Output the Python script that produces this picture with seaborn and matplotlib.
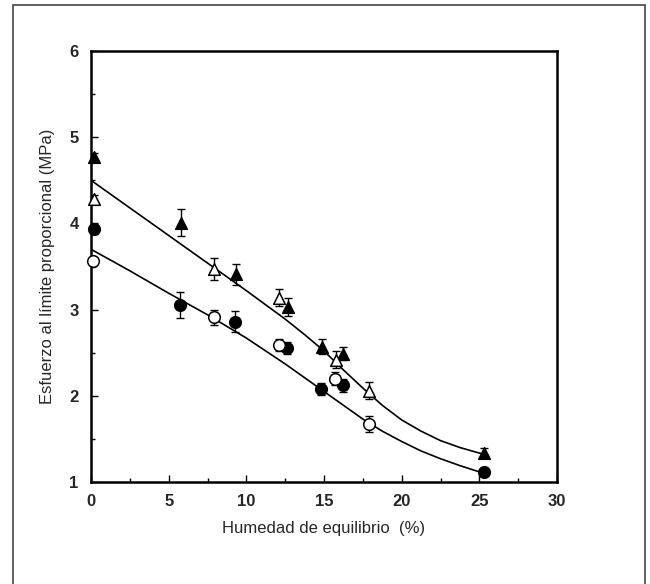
import matplotlib
matplotlib.use('Agg')
import seaborn as sns
from matplotlib import pyplot as plt
from matplotlib.patches import Rectangle
import pandas as pd

# filled triangles
ft_x = [0.2, 5.8, 9.35, 12.7, 14.9, 16.25, 25.3]
ft_y = [4.77, 4.01, 3.41, 3.03, 2.57, 2.49, 1.34]
ft_err = [0.05, 0.16, 0.12, 0.10, 0.09, 0.08, 0.05]
# open triangles
ot_x = [0.2, 7.9, 12.1, 15.8, 17.9]
ot_y = [4.28, 3.47, 3.14, 2.42, 2.06]
ot_err = [0.05, 0.13, 0.10, 0.10, 0.10]
# filled circles
fc_x = [0.2, 5.7, 9.3, 12.6, 14.8, 16.2, 25.3]
fc_y = [3.93, 3.05, 2.86, 2.55, 2.08, 2.12, 1.12]
fc_err = [0.05, 0.15, 0.12, 0.07, 0.07, 0.08, 0.03]
# open circles
oc_x = [0.1, 7.9, 12.1, 15.7, 17.9]
oc_y = [3.56, 2.91, 2.59, 2.20, 1.67]
oc_err = [0.05, 0.09, 0.07, 0.08, 0.09]

# fitted curves
fit_x = [0, 2.5, 5, 7.5, 10, 12.5, 13.75, 15, 16.25, 17.5, 18.75, 20, 21.25, 22.5, 23.75, 25.3]
fit_upper = [4.50, 4.18, 3.86, 3.54, 3.22, 2.89, 2.71, 2.52, 2.30, 2.09, 1.89, 1.72, 1.59, 1.48, 1.40, 1.32]
fit_lower = [3.70, 3.45, 3.19, 2.94, 2.67, 2.37, 2.21, 2.05, 1.89, 1.73, 1.59, 1.47, 1.36, 1.27, 1.19, 1.10]

x_ticks = [0, 5, 10, 15, 20, 25, 30]
y_ticks = [1, 2, 3, 4, 5, 6]

sns.set_style('ticks')
plt.rcParams['font.family'] = ['Liberation Sans', 'DejaVu Sans']

fig = plt.figure(figsize=(6.5, 5.84), dpi=100)
ax = fig.add_axes([91 / 650, 1 - 482 / 584, (557 - 91) / 650, (482 - 51) / 584])

fits = pd.DataFrame({'x': fit_x + fit_x,
                     'y': fit_upper + fit_lower,
                     'curve': ['upper'] * len(fit_x) + ['lower'] * len(fit_x)})
sns.lineplot(data=fits, x='x', y='y', units='curve', estimator=None,
             color='black', linewidth=1.2, ax=ax, legend=False)

series = [
    (ft_x, ft_y, ft_err, '^', 'black'),
    (ot_x, ot_y, ot_err, '^', 'white'),
    (fc_x, fc_y, fc_err, 'o', 'black'),
    (oc_x, oc_y, oc_err, 'o', 'white'),
]
for xs, ys, errs, marker, face in series:
    ax.errorbar(xs, ys, yerr=errs, fmt='none', ecolor='black',
                elinewidth=1.0, capsize=3, capthick=1.0, zorder=3)
    sns.scatterplot(x=xs, y=ys, marker=marker, s=70, color=face,
                    edgecolor='black', linewidth=1.1, ax=ax, zorder=4,
                    clip_on=False)

ax.set_xlim(0, 30)
ax.set_ylim(1, 6)
ax.set_xticks(x_ticks)
ax.set_yticks(y_ticks)
ax.set_xticks([2.5, 7.5, 12.5, 17.5, 22.5, 27.5], minor=True)
ax.set_yticks([1.5, 2.5, 3.5, 4.5, 5.5], minor=True)
ax.tick_params(which='both', direction='in', width=1.0, color='black')
ax.tick_params(which='major', length=5, labelsize=12, pad=9)
ax.tick_params(which='minor', length=3)
for lbl in ax.get_xticklabels() + ax.get_yticklabels():
    lbl.set_fontweight('bold')
for sp in ax.spines.values():
    sp.set_linewidth(1.8)
    sp.set_color('black')

ax.set_xlabel('Humedad de equilibrio  (%)', fontsize=12, labelpad=8)
ax.set_ylabel('Esfuerzo al límite proporcional (MPa)', fontsize=12, labelpad=10)

# outer frame of the scanned figure
fig.patches.append(Rectangle((13 / 650, -0.05), (645 - 13) / 650, 1.05 - 5 / 584,
                             transform=fig.transFigure, fill=False,
                             edgecolor='#444444', linewidth=1.2))

fig.savefig('out.png', dpi=100)
